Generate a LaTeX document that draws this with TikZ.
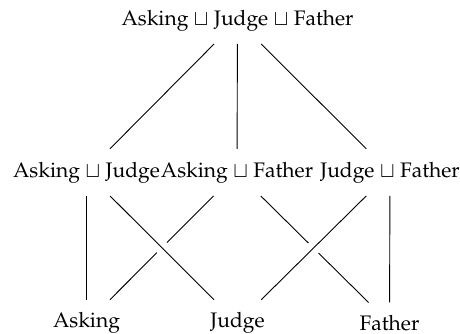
\documentclass[tikz,border=0pt]{standalone}
\usepackage[T1]{fontenc}
\usepackage{mathpazo}
\begin{document}
\begin{tikzpicture}[x=1pt,y=-1pt,
  lattice/.style={inner xsep=0pt, inner ysep=12.8pt,
    font=\fontsize{21}{25}\selectfont},
  atom/.style={lattice, inner ysep=0.5pt},
  edge/.style={line width=0.9pt},
  downv/.style={edge, shorten >=12.3pt},
  downd/.style={edge, shorten >=17.3pt},
  over/.style={downd, preaction={draw=white, line width=14pt}}]
\useasboundingbox (0,0) rectangle (460,334);

% top element
\node[lattice] (ajf) at (237.5,20.4) {Asking $\sqcup$ Judge $\sqcup$ Father};

% pairwise joins
\node[lattice] (aj) at (86.5,172.4)  {Asking $\sqcup$ Judge};
\node[lattice] (af) at (237,172.4)   {Asking $\sqcup$ Father};
\node[lattice] (jf) at (390,172.4)   {Judge $\sqcup$ Father};

% atoms
\node[atom] (a) at (86.5,323.2)  {Asking};
\node[atom] (j) at (237.5,323.2) {Judge};
\node[atom] (f) at (389.5,323.2) {Father};

% top to middle
\draw[edge] (ajf) -- (aj);
\draw[edge] (ajf) -- (af);
\draw[edge] (ajf) -- (jf);

% middle to bottom; the two crossing edges are drawn last, over a white halo
\draw[downv] (aj) -- (a);
\draw[downd] (af) -- (a);
\draw[downd] (af) -- (f);
\draw[downv] (jf) -- (f);
\draw[over] (aj) -- (j);
\draw[over] (jf) -- (j);
\end{tikzpicture}
\end{document}
